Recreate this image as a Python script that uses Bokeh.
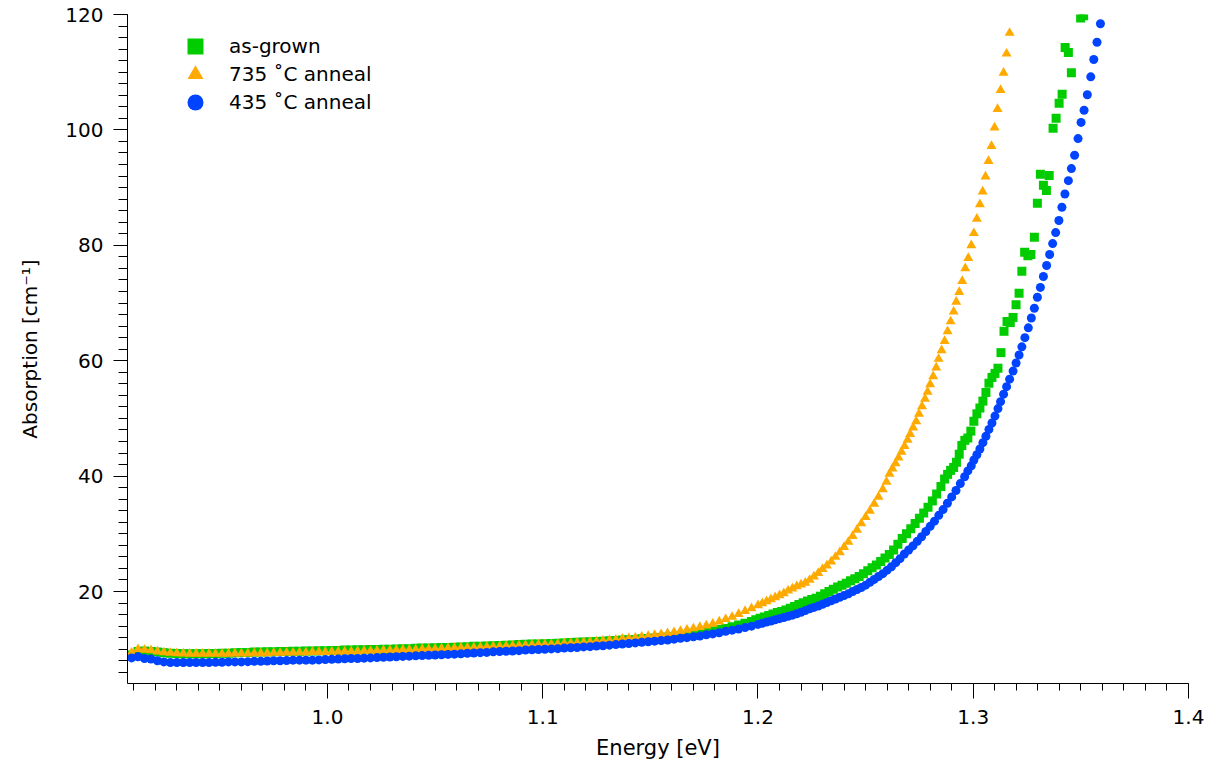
from bokeh.plotting import figure
from bokeh.models import (Range1d, SingleIntervalTicker, PrintfTickFormatter,
                          Legend, LegendItem, ColumnDataSource)
from bokeh.embed import file_html
from bokeh.resources import INLINE

# ---------------- data ----------------
# shared energy grid for the flat, dense part of the spectra [eV]
energy_low = [
    0.909, 0.912, 0.915, 0.918, 0.921, 0.924, 0.927, 0.930, 0.933, 0.936,
    0.939, 0.942, 0.945, 0.948, 0.951, 0.954, 0.957, 0.960, 0.963, 0.966,
    0.969, 0.972, 0.975, 0.978, 0.981, 0.984, 0.987, 0.990, 0.993, 0.996,
    0.999, 1.002, 1.005, 1.008, 1.011, 1.014, 1.017, 1.020, 1.023, 1.026,
    1.029, 1.032, 1.035, 1.038, 1.041, 1.044, 1.047, 1.050, 1.053, 1.056,
    1.059, 1.062, 1.065, 1.068, 1.071, 1.074, 1.077, 1.080, 1.083, 1.086,
    1.089, 1.092, 1.095, 1.098, 1.101, 1.104, 1.107, 1.110, 1.113, 1.116,
    1.119, 1.122, 1.125, 1.128, 1.131, 1.134, 1.137, 1.140, 1.143, 1.146,
    1.149, 1.152, 1.155, 1.158, 1.161, 1.164, 1.167, 1.170, 1.173, 1.176,
    1.179, 1.182, 1.185, 1.188, 1.191, 1.194, 1.197]

as_grown_low = [
    9.0, 9.6, 9.7, 9.6, 9.5, 9.4, 9.3, 9.25, 9.2, 9.2,
    9.2, 9.2, 9.25, 9.25, 9.3, 9.3, 9.4, 9.45, 9.45, 9.5,
    9.5, 9.55, 9.55, 9.6, 9.6, 9.65, 9.65, 9.7, 9.7, 9.75,
    9.75, 9.8, 9.8, 9.85, 9.85, 9.9, 9.9, 9.95, 9.95, 10.0,
    10.0, 10.05, 10.1, 10.1, 10.15, 10.2, 10.2, 10.25, 10.3, 10.3,
    10.35, 10.4, 10.45, 10.5, 10.5, 10.55, 10.6, 10.65, 10.7, 10.75,
    10.8, 10.85, 10.9, 10.9, 10.95, 11.0, 11.05, 11.1, 11.15, 11.2,
    11.25, 11.3, 11.35, 11.4, 11.45, 11.5, 11.6, 11.65, 11.7, 11.8,
    11.85, 11.95, 12.0, 12.1, 12.2, 12.3, 12.45, 12.6, 12.8, 13.0,
    13.2, 13.4, 13.6, 13.9, 14.2, 14.5, 14.8]

anneal735_low = [
    9.4, 10.0, 9.9, 9.8, 9.6, 9.45, 9.35, 9.3, 9.25, 9.2,
    9.2, 9.2, 9.2, 9.2, 9.2, 9.2, 9.25, 9.25, 9.25, 9.3,
    9.3, 9.3, 9.35, 9.35, 9.4, 9.4, 9.45, 9.45, 9.5, 9.5,
    9.5, 9.55, 9.55, 9.6, 9.6, 9.65, 9.7, 9.7, 9.75, 9.8,
    9.8, 9.85, 9.9, 9.9, 9.95, 10.0, 10.0, 10.05, 10.1, 10.15,
    10.2, 10.25, 10.3, 10.3, 10.35, 10.4, 10.45, 10.5, 10.55, 10.6,
    10.65, 10.7, 10.75, 10.8, 10.8, 10.85, 10.9, 11.0, 11.05, 11.1,
    11.2, 11.25, 11.35, 11.45, 11.55, 11.65, 11.8, 11.9, 12.0, 12.15,
    12.3, 12.45, 12.6, 12.75, 12.95, 13.15, 13.35, 13.6, 13.85, 14.1,
    14.4, 14.8, 15.2, 15.6, 16.1, 16.6, 17.1]

anneal435_low = [
    8.5, 8.7, 8.4, 8.3, 8.0, 7.8, 7.7, 7.7, 7.7, 7.7,
    7.7, 7.7, 7.7, 7.75, 7.75, 7.8, 7.8, 7.8, 7.85, 7.9,
    7.9, 7.95, 8.0, 8.0, 8.05, 8.1, 8.1, 8.1, 8.1, 8.15,
    8.2, 8.25, 8.3, 8.35, 8.4, 8.4, 8.45, 8.5, 8.55, 8.6,
    8.65, 8.7, 8.75, 8.8, 8.85, 8.9, 8.95, 9.0, 9.05, 9.1,
    9.15, 9.2, 9.3, 9.35, 9.4, 9.45, 9.55, 9.6, 9.65, 9.7,
    9.75, 9.85, 9.9, 9.95, 10.0, 10.05, 10.1, 10.2, 10.25, 10.3,
    10.4, 10.45, 10.55, 10.6, 10.7, 10.8, 10.9, 11.0, 11.1, 11.2,
    11.3, 11.4, 11.5, 11.6, 11.75, 11.9, 12.0, 12.15, 12.3, 12.5,
    12.65, 12.85, 13.1, 13.3, 13.5, 13.75, 14.0]

# rising absorption edge, as-grown sample
as_grown_edge_energy = [
    1.199, 1.201, 1.203, 1.205, 1.207, 1.209, 1.211, 1.213, 1.215, 1.217,
    1.219, 1.221, 1.223, 1.225, 1.227, 1.229, 1.231, 1.233, 1.235, 1.237,
    1.239, 1.241, 1.243, 1.245, 1.247, 1.249, 1.251, 1.253, 1.255, 1.257,
    1.259, 1.261, 1.263, 1.265, 1.267, 1.269, 1.271, 1.273, 1.275, 1.277,
    1.279, 1.281, 1.283, 1.285,
    1.2867, 1.2881, 1.2895, 1.2909, 1.2922, 1.2935, 1.2947, 1.2961, 1.2975, 1.2989,
    1.3003, 1.3017, 1.3031, 1.3045, 1.3059, 1.3073, 1.3087, 1.3101, 1.3115, 1.3129,
    1.3143, 1.3157, 1.3172, 1.3185, 1.3199, 1.3213, 1.3226, 1.3239, 1.3254, 1.3268,
    1.3284, 1.3298, 1.3312, 1.3326, 1.3340, 1.3353, 1.3371, 1.3385, 1.3399, 1.3413,
    1.3427, 1.3442, 1.3456, 1.3499, 1.3513]
as_grown_edge = [
    15.1, 15.35, 15.6, 15.85, 16.1, 16.35, 16.55, 16.8, 17.1, 17.4,
    17.75, 18.05, 18.35, 18.6, 18.85, 19.2, 19.6, 20.0, 20.4, 20.8,
    21.1, 21.45, 21.85, 22.2, 22.6, 23.1, 23.6, 24.1, 24.6, 25.2,
    25.8, 26.4, 27.2, 28.2, 29.2, 30.0, 30.9, 31.8, 32.7, 33.6,
    34.6, 35.7, 36.9, 38.2,
    39.5, 40.3, 41.0, 41.5, 42.4, 43.8, 45.3, 46.2, 46.6, 47.8,
    49.5, 50.8, 51.8, 53.0, 54.5, 56.1, 57.1, 57.8, 58.7, 61.4,
    65.1, 66.8, 66.6, 67.5, 69.7, 71.7, 75.5, 78.8, 78.2, 78.4,
    81.4, 87.3, 92.3, 90.4, 89.5, 92.1, 100.3, 102.0, 104.6, 106.2,
    114.3, 113.4, 109.9, 119.4, 119.8]

# rising absorption edge, 735 C anneal
anneal735_edge_energy = [
    1.200, 1.202, 1.204, 1.206, 1.208, 1.210, 1.212, 1.214, 1.216, 1.218,
    1.220, 1.222, 1.224, 1.226, 1.228, 1.230, 1.232, 1.234, 1.236, 1.238,
    1.240, 1.242, 1.244, 1.246, 1.248, 1.250, 1.252, 1.254, 1.256, 1.258,
    1.2597, 1.2611, 1.2625, 1.2639, 1.2653, 1.2667, 1.2681, 1.2695, 1.2707, 1.2721,
    1.2735, 1.2748, 1.2762, 1.2776, 1.2788, 1.2800, 1.2814, 1.2828, 1.2839, 1.2853,
    1.2867, 1.2881, 1.2895, 1.2909, 1.2921, 1.2935, 1.2949, 1.2963, 1.2977, 1.2991,
    1.3003, 1.3017, 1.3031, 1.3044, 1.3057, 1.3071, 1.3085, 1.3099, 1.3113, 1.3127,
    1.3141, 1.3155, 1.3169]
anneal735_edge = [
    17.6, 17.95, 18.3, 18.65, 19.0, 19.35, 19.7, 20.15, 20.5, 20.9,
    21.2, 21.5, 22.0, 22.6, 23.2, 23.9, 24.5, 25.2, 26.0, 26.8,
    27.7, 28.6, 29.6, 30.7, 31.8, 32.9, 34.0, 35.2, 36.4, 37.7,
    39.0, 40.4, 41.3, 42.2, 43.2, 44.2, 45.2, 46.3, 47.3, 48.4,
    49.5, 50.8, 52.1, 53.4, 54.6, 55.9, 57.3, 58.8, 60.3, 61.8,
    63.4, 65.1, 66.8, 68.5, 70.2, 71.9, 73.8, 76.0, 77.8, 80.0,
    82.1, 84.6, 87.1, 89.3, 91.9, 94.6, 97.2, 100.4, 103.6, 106.9,
    109.9, 113.2, 116.8]

# rising absorption edge, 435 C anneal
anneal435_edge_energy = [
    1.200, 1.202, 1.204, 1.206, 1.208, 1.210, 1.212, 1.214, 1.216, 1.218,
    1.220, 1.222, 1.224, 1.226, 1.228, 1.230, 1.232, 1.234, 1.236, 1.238,
    1.240, 1.242, 1.244, 1.246, 1.248, 1.250, 1.252, 1.254, 1.256, 1.258,
    1.260, 1.262, 1.264, 1.266, 1.268, 1.270, 1.272, 1.274, 1.276, 1.278,
    1.280, 1.282, 1.284, 1.286, 1.288, 1.290, 1.292, 1.294,
    1.2960, 1.2975, 1.2991, 1.3003, 1.3017, 1.3031, 1.3045, 1.3059, 1.3073, 1.3087,
    1.3101, 1.3115, 1.3127, 1.3141, 1.3155, 1.3169, 1.3185, 1.3199, 1.3213, 1.3226,
    1.3240, 1.3256, 1.3270, 1.3284, 1.3298, 1.3312, 1.3326, 1.3341, 1.3355, 1.3369,
    1.3383, 1.3398, 1.3412, 1.3426, 1.3442, 1.3456, 1.3471, 1.3487, 1.3501, 1.3515,
    1.3530, 1.3546, 1.3560, 1.3575, 1.3591]
anneal435_edge = [
    14.3, 14.5, 14.7, 14.9, 15.1, 15.3, 15.5, 15.7, 15.9, 16.15,
    16.4, 16.7, 17.0, 17.25, 17.5, 17.8, 18.1, 18.4, 18.7, 19.0,
    19.3, 19.6, 20.0, 20.35, 20.7, 21.1, 21.6, 22.1, 22.6, 23.1,
    23.7, 24.3, 25.0, 25.7, 26.5, 27.2, 27.9, 28.7, 29.5, 30.4,
    31.3, 32.2, 33.2, 34.2, 35.3, 36.4, 37.5, 38.7,
    39.9, 40.9, 41.8, 42.8, 43.7, 44.7, 45.8, 46.9, 48.1, 49.2,
    50.4, 51.7, 52.9, 54.2, 55.5, 56.8, 58.2, 59.6, 61.0, 62.4,
    64.0, 65.7, 67.4, 69.1, 71.0, 72.7, 74.6, 76.5, 78.4, 80.3,
    82.2, 84.3, 86.6, 88.9, 91.2, 93.3, 95.6, 98.5, 101.3, 103.4,
    106.1, 109.2, 112.2, 115.2, 118.4]

series_labels = ["as-grown", "735 \u02daC anneal", "435 \u02daC anneal"]
x_ticks_major = 0.1
y_ticks_major = 20

# ---------------- figure ----------------
FONT = "DejaVu Sans"
p = figure(width=1205, height=763, output_backend="svg", toolbar_location=None,
           x_range=Range1d(0.9071, 1.40001), y_range=Range1d(4.06, 120),
           min_border_left=127, min_border_right=17, min_border_top=14,
           min_border_bottom=80)
p.outline_line_color = None
p.xgrid.visible = False
p.ygrid.visible = False
p.background_fill_color = "white"

src_g = ColumnDataSource(dict(x=energy_low + as_grown_edge_energy,
                              y=as_grown_low + as_grown_edge))
src_o = ColumnDataSource(dict(x=energy_low + anneal735_edge_energy,
                              y=anneal735_low + anneal735_edge))
src_b = ColumnDataSource(dict(x=energy_low + anneal435_edge_energy,
                              y=anneal435_low + anneal435_edge))

r_g = p.scatter("x", "y", source=src_g, marker="square", size=9,
                fill_color="#00CC00", line_color=None)
r_o = p.scatter("x", "y", source=src_o, marker="triangle", size=10,
                fill_color="#FFAA00", line_color=None)
r_b = p.scatter("x", "y", source=src_b, marker="circle", size=9,
                fill_color="#0044FF", line_color=None)

# axes
for ax in (p.xaxis[0], p.yaxis[0]):
    ax.axis_line_color = "black"
    ax.axis_line_width = 1
    ax.major_tick_line_color = "black"
    ax.minor_tick_line_color = "black"
    ax.major_tick_in = 0
    ax.minor_tick_in = 0
    ax.major_label_text_font = FONT
    ax.major_label_text_font_size = "20px"
    ax.major_label_text_color = "black"
    ax.axis_label_text_font = FONT
    ax.axis_label_text_font_style = "normal"
    ax.axis_label_text_color = "black"

p.xaxis.ticker = SingleIntervalTicker(interval=x_ticks_major, num_minor_ticks=10)
p.xaxis.formatter = PrintfTickFormatter(format="%.1f")
p.xaxis.major_tick_out = 15
p.xaxis.minor_tick_out = 7
p.xaxis.major_label_standoff = 11
p.xaxis.axis_label = "Energy [eV]"
p.xaxis.axis_label_text_font_size = "21px"
p.xaxis.axis_label_standoff = 9

p.yaxis.ticker = SingleIntervalTicker(interval=y_ticks_major, num_minor_ticks=10)
p.yaxis.formatter = PrintfTickFormatter(format="%d")
p.yaxis.major_tick_out = 14
p.yaxis.minor_tick_out = 9
p.yaxis.major_label_standoff = 10
p.yaxis.axis_label = "Absorption [cm\u207b\u00b9]"
p.yaxis.axis_label_text_font_size = "20px"
p.yaxis.axis_label_standoff = 20

# one single-row legend per series so that the legend glyphs can be large
legend_rows = [(series_labels[0], r_g, 617),
               (series_labels[1], r_o, 589),
               (series_labels[2], r_b, 561)]
for label, rend, ypos in legend_rows:
    lg = Legend(items=[LegendItem(label=label, renderers=[rend])],
                location=(48, ypos), glyph_width=40, glyph_height=40,
                label_standoff=14, padding=0, margin=0,
                border_line_color=None, background_fill_alpha=0,
                label_text_font=FONT, label_text_font_size="20px",
                label_text_color="black")
    p.add_layout(lg)

open("out.html", "w").write(file_html(p, INLINE))
